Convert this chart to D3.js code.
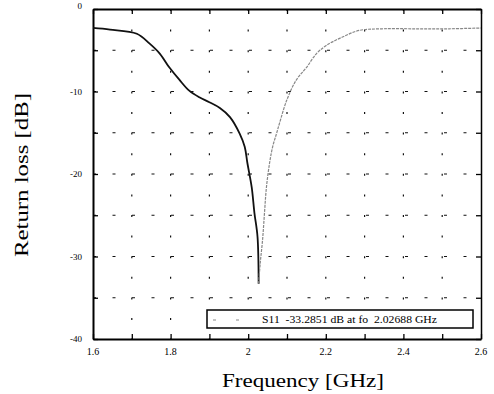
<!DOCTYPE html>
<html><head><meta charset="utf-8">
<script src="https://cdn.jsdelivr.net/npm/d3@7"></script>
<style>body{margin:0;background:#fff}svg{display:block}</style>
</head><body>
<script>
// Data (frequency GHz, S11 dB)
const freqLeft = [1.6, 1.644, 1.713, 1.746, 1.772, 1.797, 1.823, 1.848, 1.874, 1.90, 1.927, 1.953, 1.978, 1.991, 1.998, 2.009, 2.016, 2.024, 2.0269];
const s11Left  = [-2.3, -2.5, -3.0, -4.2, -5.4, -7.1, -8.6, -9.9, -10.7, -11.3, -12.0, -13.1, -15.1, -16.7, -18.7, -21.6, -24.7, -27.6, -33.29];
const freqRight = [2.0269, 2.031, 2.037, 2.042, 2.047, 2.055, 2.063, 2.073, 2.081, 2.099, 2.124, 2.150, 2.176, 2.202, 2.243, 2.286, 2.345, 2.433, 2.518, 2.6];
const s11Right  = [-33.29, -30.8, -28.0, -24.7, -21.6, -18.7, -16.7, -15.1, -13.8, -11.1, -8.6, -7.1, -5.4, -4.4, -3.4, -2.6, -2.4, -2.4, -2.4, -2.3];
const xTickLabels = ["1.6", "1.8", "2", "2.2", "2.4", "2.6"];
const yTickLabels = ["0", "-10", "-20", "-30", "-40"];
const legendText = "S11  -33.2851 dB at fo  2.02688 GHz";

const W = 494, H = 394;
const m = {left: 93, right: 13, top: 9, bottom: 55};
const svg = d3.select("body").append("svg").attr("width", W).attr("height", H);
const x = d3.scaleLinear().domain([1.6, 2.6]).range([m.left, W - m.right]);
const y = d3.scaleLinear().domain([-40, 0]).range([H - m.bottom, m.top]);
const font = "'Liberation Serif','Times New Roman',serif";

// grid
const gx = d3.range(1.7, 2.55, 0.1);
const gy = d3.range(-35, 0, 5);
svg.append("g").selectAll("line").data(gx).join("line")
  .attr("x1", d => x(d)).attr("x2", d => x(d)).attr("y1", y(0)).attr("y2", y(-40))
  .attr("stroke", "#111").attr("stroke-width", 1.2).attr("stroke-dasharray", "2,18.6");
svg.append("g").selectAll("line").data(gy).join("line")
  .attr("x1", x(1.6)).attr("x2", x(2.6)).attr("y1", d => y(d)).attr("y2", d => y(d))
  .attr("stroke", "#111").attr("stroke-width", 1.2).attr("stroke-dasharray", "3,16.5");

// axes frame with inward ticks
const xAxisB = d3.axisBottom(x).tickValues(d3.range(1.6, 2.65, 0.1)).tickSizeInner(-5).tickSizeOuter(0).tickFormat("");
const xAxisT = d3.axisTop(x).tickValues(d3.range(1.6, 2.65, 0.1)).tickSizeInner(-5).tickSizeOuter(0).tickFormat("");
const yAxisL = d3.axisLeft(y).tickValues(d3.range(-40, 1, 5)).tickSizeInner(-5).tickSizeOuter(0).tickFormat("");
const yAxisR = d3.axisRight(y).tickValues(d3.range(-40, 1, 5)).tickSizeInner(-5).tickSizeOuter(0).tickFormat("");
function style(g, w){ g.selectAll("path").attr("stroke","#000").attr("stroke-width",w); g.selectAll("line").attr("stroke","#000").attr("stroke-width",1.3); }
svg.append("g").attr("transform",`translate(0,${y(-40)})`).call(xAxisB).call(g=>style(g,2));
svg.append("g").attr("transform",`translate(0,${y(0)})`).call(xAxisT).call(g=>style(g,2));
svg.append("g").attr("transform",`translate(${x(1.6)},0)`).call(yAxisL).call(g=>style(g,2));
svg.append("g").attr("transform",`translate(${x(2.6)},0)`).call(yAxisR).call(g=>style(g,1.5));

// tick labels
svg.append("g").selectAll("text").data(xTickLabels).join("text")
  .attr("x", d => x(+d)).attr("y", y(-40) + 16).attr("text-anchor","middle")
  .attr("font-family", font).attr("font-size", 10).text(d => d);
svg.append("g").selectAll("text").data(yTickLabels).join("text")
  .attr("x", x(1.6) - 11).attr("y", d => y(+d) + (d === "0" ? 0 : 3)).attr("text-anchor","end")
  .attr("font-family", font).attr("font-size", 9).text(d => d);

// curve
const line = d3.line().x(d => x(d[0])).y(d => y(d[1])).curve(d3.curveCatmullRom.alpha(0.5));
svg.append("path").datum(d3.zip(freqLeft, s11Left)).attr("d", line)
  .attr("fill","none").attr("stroke","#111").attr("stroke-width",1.8);
svg.append("path").datum(d3.zip(freqRight, s11Right)).attr("d", line)
  .attr("fill","none").attr("stroke","#888").attr("stroke-width",1.2).attr("stroke-dasharray","3,1");

// legend
const lg = svg.append("g");
lg.append("rect").attr("x", 207).attr("y", 310).attr("width", 266).attr("height", 18)
  .attr("fill","#fff").attr("stroke","#000").attr("stroke-width",1.5);
lg.append("line").attr("x1", 213).attr("x2", 243).attr("y1", 320).attr("y2", 320)
  .attr("stroke","#888").attr("stroke-width",1.2).attr("stroke-dasharray","3,20");
lg.append("text").attr("x", 262).attr("y", 322.5).attr("font-family", font).attr("font-size", 10)
  .attr("xml:space","preserve").style("white-space","pre")
  .attr("textLength", 175).attr("lengthAdjust","spacingAndGlyphs").text(legendText);

// axis titles
svg.append("text").attr("x", 222).attr("y", 387)
  .attr("font-family", font).attr("font-size", 19)
  .attr("textLength", 162).attr("lengthAdjust","spacingAndGlyphs").text("Frequency [GHz]");
svg.append("text").attr("transform", `translate(28,257) rotate(-90)`)
  .attr("font-family", font).attr("font-size", 19)
  .attr("textLength", 164).attr("lengthAdjust","spacingAndGlyphs").text("Return loss [dB]");
</script>
</body></html>
